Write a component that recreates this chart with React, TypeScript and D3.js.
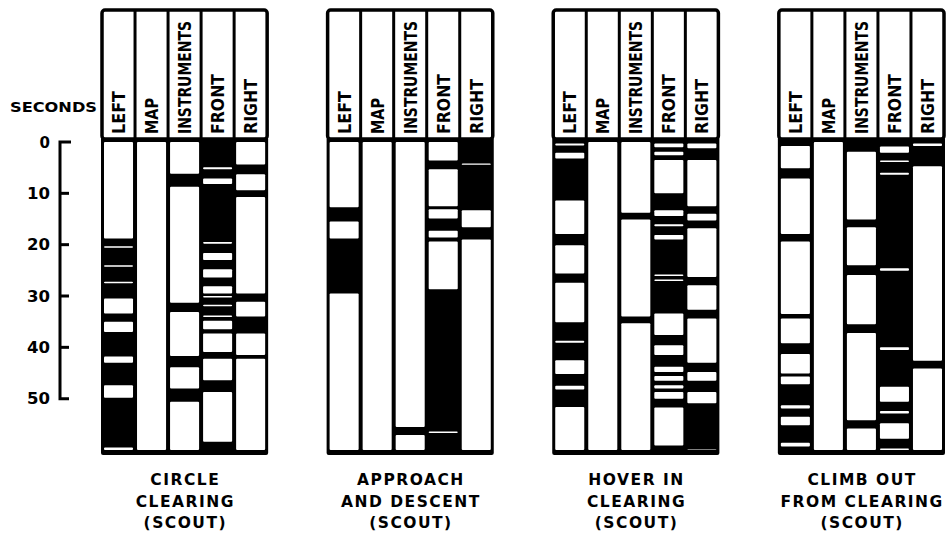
import React from 'react';
import * as d3 from 'd3';

type Iv = [number, number];

const columns = ['LEFT', 'MAP', 'INSTRUMENTS', 'FRONT', 'RIGHT'];
const columnLabelLengths = [43, 36, 113, 60, 55];
const yTicks = [0, 10, 20, 30, 40, 50];
const panelTitles: string[][] = [
  ['CIRCLE', 'CLEARING', '(SCOUT)'],
  ['APPROACH', 'AND DESCENT', '(SCOUT)'],
  ['HOVER IN', 'CLEARING', '(SCOUT)'],
  ['CLIMB OUT', 'FROM CLEARING', '(SCOUT)'],
];

// black = looking at that area, seconds [start, end]; order LEFT, MAP, INSTRUMENTS, FRONT, RIGHT
const circleClearing: Iv[][] = [
  [[18.8, 20.3], [20.6, 24.0], [24.3, 27.2], [27.5, 30.5], [33.4, 35.0], [37.0, 41.8], [43.0, 47.4], [49.8, 59.5]],
  [],
  [[6.2, 8.7], [31.3, 33.1], [41.7, 43.9], [48.0, 50.6]],
  [[0, 4.9], [5.3, 7.1], [8.2, 19.5], [19.8, 21.6], [23.0, 24.8], [26.4, 28.1], [29.5, 30.0], [30.3, 31.7], [32.0, 33.8], [34.1, 34.8], [36.5, 37.3], [40.9, 42.2], [46.4, 48.7], [58.4, 60.5]],
  [[4.4, 6.3], [9.4, 10.7], [29.5, 31.1], [34.0, 37.3], [41.5, 42.2]],
];
const approachDescent: Iv[][] = [
  [[12.7, 15.5], [18.8, 29.5]],
  [],
  [[55.5, 57.1]],
  [[3.6, 5.3], [12.5, 13.1], [14.9, 17.3], [18.6, 19.4], [28.7, 56.4], [56.7, 60.5]],
  [[0, 4.2], [4.45, 13.3], [16.6, 19.0]],
];
const hoverClearing: Iv[][] = [
  [[0, 0.3], [0.7, 2.1], [3.2, 11.4], [17.9, 20.1], [25.6, 27.4], [35.1, 38.7], [39.1, 42.5], [45.2, 47.5], [48.2, 51.6]],
  [],
  [[13.8, 15.1], [34.0, 35.3]],
  [[0, 0.3], [1.0, 1.9], [2.6, 3.5], [10.0, 13.3], [14.4, 16.0], [16.4, 18.1], [19.0, 25.8], [26.1, 26.8], [27.1, 33.4], [37.6, 39.6], [41.5, 43.8], [44.8, 45.6], [46.5, 47.4], [48.0, 48.7], [50.0, 51.7], [59.1, 60.5]],
  [[0, 0.3], [1.2, 3.5], [12.5, 14.0], [15.3, 16.8], [26.3, 27.9], [32.7, 34.4], [43.0, 44.8], [46.5, 48.7], [50.9, 59.9]],
];
const climbOut: Iv[][] = [
  [[0, 0.8], [5.1, 7.1], [17.9, 19.4], [33.5, 34.4], [39.2, 41.3], [45.1, 45.7], [47.2, 51.3], [51.9, 53.5], [55.2, 58.6], [59.3, 60.5]],
  [],
  [[0, 1.9], [15.1, 16.6], [24.0, 25.9], [35.5, 37.2], [54.2, 55.8]],
  [[0, 0.9], [2.1, 3.6], [3.9, 6.0], [6.4, 24.6], [25.1, 40.0], [40.5, 47.7], [50.6, 52.4], [52.9, 54.8], [57.8, 59.7], [60.4, 60.5]],
  [[0, 0.3], [0.8, 4.7], [42.6, 44.1]],
];
const panels = [circleClearing, approachDescent, hoverClearing, climbOut];

const W = 952;
const H = 538;
const T_MAX = 60;
const FONT = '"DejaVu Sans", sans-serif';

const y = d3.scaleLinear().domain([0, T_MAX]).range([142, 450]);
const px = d3.scaleBand<number>().domain(d3.range(panels.length)).range([102, 944]).paddingInner(0.268);

function whiteIntervals(black: Iv[]): Iv[] {
  const out: Iv[] = [];
  let cur = 0;
  const sorted = [...black].sort((a, b) => a[0] - b[0]);
  for (const [a, b] of sorted) {
    const a2 = Math.max(0, Math.min(T_MAX, a));
    if (a2 > cur) out.push([cur, a2]);
    cur = Math.max(cur, Math.min(T_MAX, b));
  }
  if (cur < T_MAX) out.push([cur, T_MAX]);
  return out;
}

export default function App() {
  const axisX = 60;
  return (
    <svg width={W} height={H} viewBox={`0 0 ${W} ${H}`}
      style={{ position: 'absolute', left: 0, top: 0, background: '#fff' }}
      fontFamily={FONT} fontWeight="bold">
      <rect x={0} y={0} width={W} height={H} fill="#fff" />
      {/* y axis */}
      <text x={10} y={112} fontSize={14} textLength={87} lengthAdjust="spacingAndGlyphs">SECONDS</text>
      <path
        d={`M${axisX + 11},${y(0)} H${axisX} V${y(50)} H${axisX + 9}`}
        fill="none" stroke="#000" strokeWidth={3} />
      {yTicks.filter(t => t > 0 && t < 50).map(t => (
        <line key={t} x1={axisX} x2={axisX + 9} y1={y(t)} y2={y(t)} stroke="#000" strokeWidth={3} />
      ))}
      {yTicks.map(t => (
        <text key={t} x={50} y={y(t) + 5.5} fontSize={15} textAnchor="end"
          {...(t > 0 ? { textLength: 23, lengthAdjust: 'spacingAndGlyphs' } : {})}>{String(t)}</text>
      ))}
      {panels.map((data, pi) => {
        const x0 = px(pi)!;
        const w = px.bandwidth();
        const cx = d3.scaleBand<number>().domain(d3.range(columns.length)).range([x0, x0 + w]);
        const bw = cx.bandwidth();
        const center = x0 + w / 2;
        return (
          <g key={pi}>
            <rect x={x0 - 1} y={137} width={w + 2} height={318} fill="#000" rx={2} />
            {data.map((col, ci) =>
              whiteIntervals(col).map(([a, b], k) => (
                <rect key={`${ci}-${k}`} x={cx(ci)! + 2} width={bw - 4}
                  y={y(a)} height={Math.max(0, y(b) - y(a))} fill="#fff" rx={1} />
              ))
            )}
            <rect x={x0} y={10} width={w} height={129} fill="#fff" stroke="#000" strokeWidth={3.5} rx={3} />
            {columns.slice(1).map((_, i) => (
              <line key={i} x1={cx(i + 1)!} x2={cx(i + 1)!} y1={10} y2={139} stroke="#000" strokeWidth={3} />
            ))}
            {columns.map((c, ci) => (
              <text key={c} transform={`translate(${cx(ci)! + bw / 2 + 6.5},134) rotate(-90)`}
                fontSize={17} textLength={columnLabelLengths[ci]} lengthAdjust="spacingAndGlyphs">{c}</text>
            ))}
            {panelTitles[pi].map((line, li) => (
              <text key={li} x={center + 0.75} y={485 + li * 21.5} fontSize={15.5}
                textAnchor="middle" letterSpacing={1.5}>{line}</text>
            ))}
          </g>
        );
      })}
    </svg>
  );
}
